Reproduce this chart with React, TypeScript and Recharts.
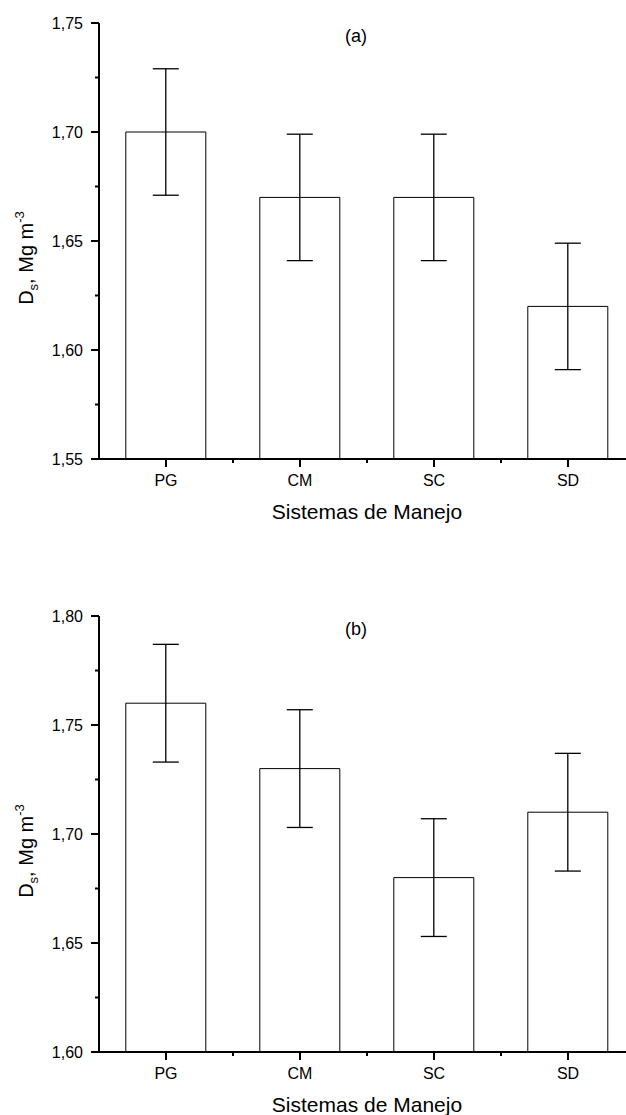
import React from "react";
import { Bar, BarChart, ErrorBar, Label, XAxis, YAxis } from "recharts";

const categories = ["PG", "CM", "SC", "SD"];

// (a)
const densityA = [1.7, 1.67, 1.67, 1.62];
const errorA = [0.029, 0.029, 0.029, 0.029];
const ticksA = [1.55, 1.575, 1.6, 1.625, 1.65, 1.675, 1.7, 1.725, 1.75];

// (b)
const densityB = [1.76, 1.73, 1.68, 1.71];
const errorB = [0.027, 0.027, 0.027, 0.027];
const ticksB = [1.6, 1.625, 1.65, 1.675, 1.7, 1.725, 1.75, 1.775, 1.8];

const FONT = "'Liberation Sans', Arial, Helvetica, sans-serif";
const TICK_SIZE = 8;
const TICK_MARGIN = 8;
const MINOR = 4;

const isMajor = (v: number) => Math.round(v * 1000) % 50 === 0;
const fmt = (v: number) => v.toFixed(2).replace(".", ",");

// recharts' own tick line is kept but hidden; major/minor marks are drawn here
const hiddenTickLine = { stroke: "none" };

const renderYTick = (props: any) => {
  const x = Number(props.x);
  const y = Number(props.y);
  const v = Number(props.payload.value);
  const axisX = x + TICK_SIZE + TICK_MARGIN;
  const len = isMajor(v) ? TICK_SIZE : MINOR;
  return (
    <g>
      <rect x={axisX - len} y={y - 1} width={len} height={2} fill="#000" />
      {isMajor(v) && (
        <text x={x} y={y} dy="0.36em" textAnchor="end" fontFamily={FONT} fontSize={16} fill="#000">
          {fmt(v)}
        </text>
      )}
    </g>
  );
};

const renderXTick = (props: any) => {
  const x = Number(props.x);
  const y = Number(props.y);
  const count = Number(props.visibleTicksCount ?? 4);
  const band = Number(props.width ?? 536) / count;
  const axisY = y - TICK_SIZE - TICK_MARGIN;
  const last = props.index === count - 1;
  return (
    <g>
      <rect x={x - 1} y={axisY} width={2} height={TICK_SIZE} fill="#000" />
      {!last && <rect x={x + band / 2 - 1} y={axisY} width={2} height={MINOR} fill="#000" />}
      <text x={x} y={y} dy="0.71em" textAnchor="middle" fontFamily={FONT} fontSize={16} fill="#000">
        {props.payload.value}
      </text>
    </g>
  );
};

function XTitle(props: any) {
  const { viewBox } = props;
  const cx = viewBox.x + viewBox.width / 2;
  return (
    <text x={cx} y={viewBox.y + 60} textAnchor="middle" fontFamily={FONT} fontSize={21} fill="#000">
      Sistemas de Manejo
    </text>
  );
}

function YTitle(props: any) {
  const { viewBox } = props;
  const cx = viewBox.x + 33;
  const cy = viewBox.y + viewBox.height / 2 + 17;
  return (
    <text
      x={cx}
      y={cy}
      transform={`rotate(-90, ${cx}, ${cy})`}
      textAnchor="middle"
      fontFamily={FONT}
      fontSize={20}
      fill="#000"
    >
      D
      <tspan fontSize={13} dy={5}>
        s
      </tspan>
      <tspan dy={-5}>, Mg m</tspan>
      <tspan fontSize={13} dy={-9}>
        -3
      </tspan>
    </text>
  );
}

function Panel({
  values,
  errors,
  ticks,
  title,
}: {
  values: number[];
  errors: number[];
  ticks: number[];
  title: string;
}) {
  const data = categories.map((name, i) => ({ name, value: values[i], err: errors[i] }));
  return (
    <div style={{ position: "relative", width: 660, height: 540 }}>
      <BarChart
        width={660}
        height={540}
        data={data}
        margin={{ top: 23, right: 25, left: 0, bottom: 0 }}
        barCategoryGap="20%"
      >
        <XAxis
          dataKey="name"
          height={81}
          interval={0}
          tickLine={hiddenTickLine}
          tickSize={TICK_SIZE}
          tickMargin={TICK_MARGIN}
          axisLine={{ stroke: "#000", strokeWidth: 2 }}
          tick={renderXTick}
        >
          <Label content={<XTitle />} />
        </XAxis>
        <YAxis
          width={99}
          type="number"
          domain={[ticks[0], ticks[ticks.length - 1]]}
          ticks={ticks}
          interval={0}
          tickLine={hiddenTickLine}
          tickSize={TICK_SIZE}
          tickMargin={TICK_MARGIN}
          axisLine={{ stroke: "#000", strokeWidth: 2 }}
          tick={renderYTick}
        >
          <Label content={<YTitle />} />
        </YAxis>
        <Bar dataKey="value" fill="#fff" stroke="#000" strokeWidth={1} isAnimationActive={false}>
          <ErrorBar dataKey="err" width={13} stroke="#000" strokeWidth={1.3} direction="y" />
        </Bar>
      </BarChart>
      <div
        style={{
          position: "absolute",
          left: 326,
          top: 26,
          width: 60,
          textAlign: "center",
          fontFamily: FONT,
          fontSize: 18,
          lineHeight: "20px",
        }}
      >
        {title}
      </div>
    </div>
  );
}

export default function App() {
  return (
    <div
      style={{
        position: "absolute",
        left: 0,
        top: 0,
        width: 626,
        height: 1115,
        overflow: "hidden",
        background: "#fff",
      }}
    >
      <div style={{ position: "absolute", left: 0, top: 0 }}>
        <Panel values={densityA} errors={errorA} ticks={ticksA} title="(a)" />
      </div>
      <div style={{ position: "absolute", left: 0, top: 593 }}>
        <Panel values={densityB} errors={errorB} ticks={ticksB} title="(b)" />
      </div>
    </div>
  );
}
